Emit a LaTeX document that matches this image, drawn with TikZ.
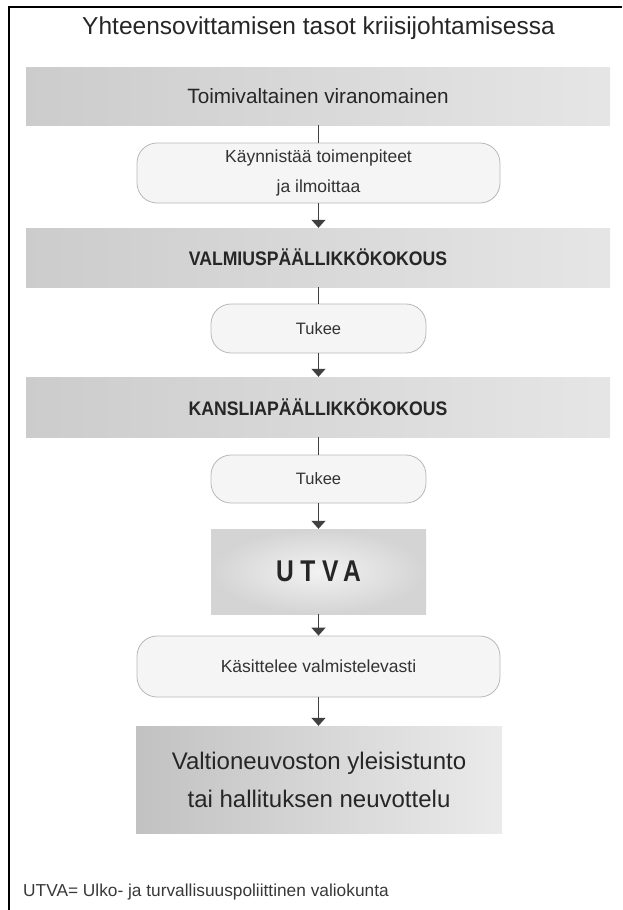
\documentclass[tikz,border=0pt]{standalone}
\usepackage{fontspec}
\setmainfont{Liberation Sans}
\newfontfamily\narrowfont{Liberation Sans}[FakeStretch=0.9]
\newfontfamily\utvafont{Liberation Sans}[FakeStretch=0.82,LetterSpace=22]
\usetikzlibrary{arrows.meta}
\tikzset{
  x=1pt,y=1pt,
  band/.style={rectangle, inner sep=0pt, minimum width=584pt,
    left color=black!20, right color=black!10, text=black!85,
    font=\narrowfont\bfseries\fontsize{19.6}{22}\selectfont},
  pill/.style={rectangle, rounded corners=20pt, inner sep=0pt, align=center,
    fill=black!4, draw=black!28, line width=0.8pt, text=black!80,
    font=\fontsize{17.5}{30}\selectfont},
  conn/.style={draw=black!75, line width=1.4pt},
  arr/.style={conn, -{Triangle[width=14pt,length=8pt]}},
  frameline/.style={draw=black, line width=2pt}
}
\begin{document}
\begin{tikzpicture}
\useasboundingbox (0,0) rectangle (622,-910);
\draw[frameline] (622,-7) -- (9,-7) -- (9,-910);
\node[text=black!85, font=\fontsize{24.5}{26}\selectfont] (title) at (318.5,-28) {Yhteensovittamisen tasot kriisijohtamisessa};
\node[band, minimum height=58pt, font=\fontsize{20.7}{24}\selectfont] (b1) at (318,-96) {Toimivaltainen viranomainen};
\node[pill, minimum width=363pt, minimum height=60pt] (r1) at (318.5,-173) {Käynnistää toimenpiteet\\ja ilmoittaa};
\node[band, minimum height=59pt] (b2) at (318,-257.5) {VALMIUSPÄÄLLIKKÖKOKOUS};
\node[pill, minimum width=215pt, minimum height=49pt, font=\fontsize{16.5}{20}\selectfont] (r2) at (318.5,-328.5) {Tukee};
\node[band, minimum height=60pt] (b3) at (318,-407) {KANSLIAPÄÄLLIKKÖKOKOUS};
\node[pill, minimum width=215pt, minimum height=48pt, font=\fontsize{16.5}{20}\selectfont] (r3) at (318.5,-479) {Tukee};
\node[rectangle, inner sep=0pt, minimum width=215pt, minimum height=85pt,
  inner color=black!5, outer color=black!17, text=black!85,
  font=\utvafont\bfseries\fontsize{30}{32}\selectfont] (utva) at (318.5,-571.5) {UTVA};
\node[pill, minimum width=363pt, minimum height=61pt] (r4) at (318.5,-666.5) {Käsittelee valmistelevasti};
\node[rectangle, inner sep=0pt, minimum width=366pt, minimum height=107pt, align=center,
  left color=black!24, right color=black!8, text=black!85,
  font=\fontsize{24}{38}\selectfont] (fin) at (319,-779.5) {Valtioneuvoston yleisistunto\\tai hallituksen neuvottelu};
\node[anchor=west, inner sep=0pt, text=black!78, font=\fontsize{17.3}{19}\selectfont] (foot) at (23,-892) {UTVA= Ulko- ja turvallisuuspoliittinen valiokunta};
\draw[conn] (b1.south -| r1.north) -- (r1.north);
\draw[arr] (r1.south) -- (b2.north -| r1.south);
\draw[conn] (b2.south -| r2.north) -- (r2.north);
\draw[arr] (r2.south) -- (b3.north -| r2.south);
\draw[conn] (b3.south -| r3.north) -- (r3.north);
\draw[arr] (r3.south) -- (utva.north);
\draw[arr] (utva.south) -- (r4.north);
\draw[arr] (r4.south) -- (fin.north -| r4.south);
\end{tikzpicture}
\end{document}
